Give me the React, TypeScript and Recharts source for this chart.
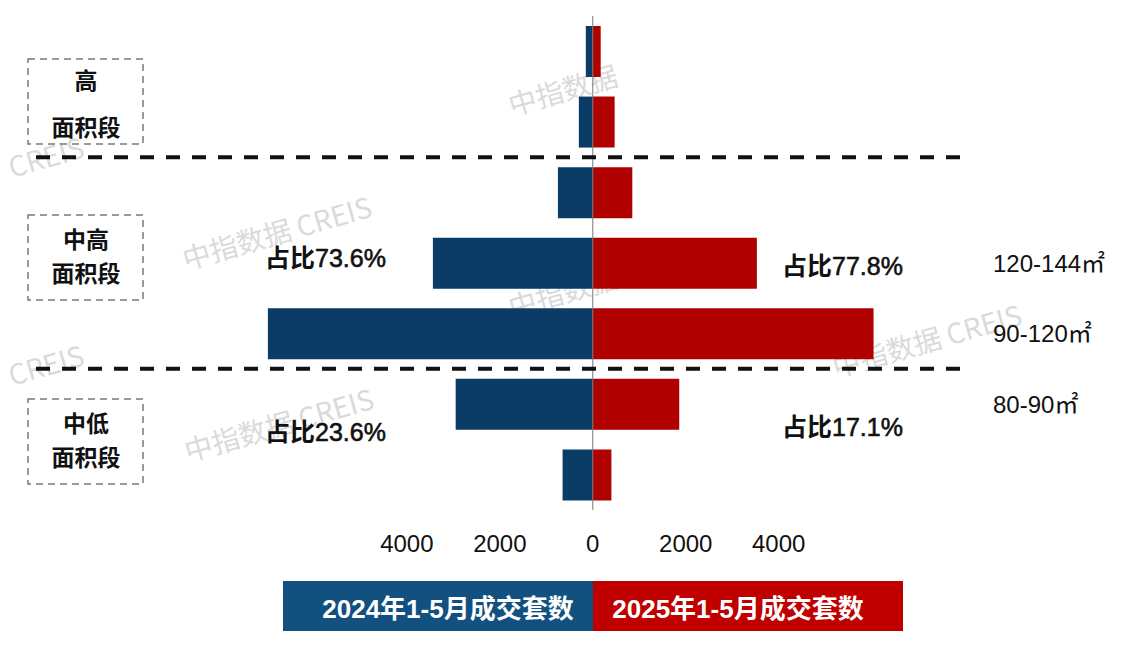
import { BarChart, Bar, XAxis, YAxis, ReferenceLine } from "recharts";

// area bands, top to bottom
const bands = ["b1", "b2", "b3", "b4", "b5", "b6", "b7"];
const bandLabels = ["", "", "", "120-144㎡", "90-120㎡", "80-90㎡", ""];
const sales2024 = [150, 300, 750, 3440, 6990, 2950, 650];
const sales2025 = [170, 470, 850, 3530, 6040, 1860, 400];
const seriesNames = ["2024年1-5月成交套数", "2025年1-5月成交套数"];
const xTicks = [-4000, -2000, 0, 2000, 4000];

// groups of bands
const groupNames = [["高", "面积段"], ["中高", "面积段"], ["中低", "面积段"]];
const share2024 = ["", "73.6%", "23.6%"];
const share2025 = ["", "77.8%", "17.1%"];
const groupStarts = [bands[2], bands[5]];

const BLUE = "#0b3c66";
const RED = "#b10000";
const LEGEND_BLUE = "#12507f";
const LEGEND_RED = "#c00000";
const FONT = "'Liberation Sans', 'Noto Sans CJK SC', sans-serif";
const CJK = "'Noto Sans CJK SC', 'Liberation Sans', sans-serif";

const data = bands.map((b, i) => ({
  band: b,
  y2024: -sales2024[i],
  y2025: sales2025[i],
}));

const watermarks = [
  { x: 512, y: 116, t: "中指数据" },
  { x: 12, y: 178, t: "CREIS" },
  { x: 186, y: 270, t: "中指数据  CREIS" },
  { x: 512, y: 318, t: "中指数据" },
  { x: 12, y: 386, t: "CREIS" },
  { x: 836, y: 378, t: "中指数据  CREIS" },
  { x: 188, y: 462, t: "中指数据  CREIS" },
];

const boxes = [
  { y: 59, l1: 81, l2: 128 },
  { y: 215, l1: 240, l2: 274 },
  { y: 399, l1: 424, l2: 458 },
];

const shareLeft = [0, 267, 441];
const shareRight = [0, 275, 436];

const ShareText = ({ x, y, v }: { x: number; y: number; v: string }) => (
  <text x={x} y={y} fontSize={25} fill="#111">
    <tspan fontFamily={CJK} fontWeight={700}>占比</tspan>
    <tspan fontFamily={FONT} stroke="#111" strokeWidth={0.6}>{v}</tspan>
  </text>
);

export default function App() {
  return (
    <div
      style={{
        position: "absolute",
        left: 0,
        top: 0,
        width: 1144,
        height: 658,
        background: "#fff",
        overflow: "hidden",
      }}
    >
      <svg width={1144} height={658} style={{ position: "absolute", left: 0, top: 0 }}>
        {watermarks.map((w, i) => (
          <text
            key={i}
            x={w.x}
            y={w.y}
            fontSize={28}
            fontFamily={CJK}
            fill="#dadada"
            transform={`rotate(-16 ${w.x} ${w.y})`}
          >
            {w.t}
          </text>
        ))}
      </svg>

      <div style={{ position: "absolute", left: 0, top: 0 }}>
        <BarChart
          width={1144}
          height={658}
          data={data}
          layout="vertical"
          stackOffset="sign"
          barSize={51}
          margin={{ top: 16, right: 0, bottom: 108, left: 35 }}
        >
          <XAxis
            type="number"
            domain={[-12000, 7900]}
            ticks={xTicks}
            allowDataOverflow
            tickFormatter={(v: number) => String(Math.abs(v))}
            axisLine={false}
            tickLine={false}
            tickSize={0}
            tickMargin={25}
            height={40}
            tick={{ fill: "#111", fontSize: 24, fontFamily: FONT }}
          />
          <YAxis
            type="category"
            dataKey="band"
            orientation="right"
            width={184}
            interval={0}
            axisLine={false}
            tickLine={false}
            tickSize={0}
            tickMargin={33}
            tickFormatter={(v: string) => bandLabels[bands.indexOf(v)]}
            tick={{ fill: "#111", fontSize: 24, fontFamily: FONT }}
          />
          <Bar dataKey="y2024" name={seriesNames[0]} stackId="s" fill={BLUE} isAnimationActive={false} />
          <Bar dataKey="y2025" name={seriesNames[1]} stackId="s" fill={RED} isAnimationActive={false} />
          <ReferenceLine x={0} stroke="#777" strokeWidth={1} />
          {groupStarts.map((g) => (
            <ReferenceLine
              key={g}
              y={g}
              position="start"
              stroke="#111"
              strokeWidth={4}
              strokeDasharray="14 12"
            />
          ))}
        </BarChart>
      </div>

      <svg
        width={1144}
        height={658}
        style={{ position: "absolute", left: 0, top: 0, pointerEvents: "none" }}
      >
        {boxes.map((b, i) => (
          <g key={i}>
            <rect
              x={28}
              y={b.y}
              width={115}
              height={85}
              fill="none"
              stroke="#7a7a7a"
              strokeWidth={1.5}
              strokeDasharray="7 5"
            />
            <text x={86} y={b.l1 + 8} textAnchor="middle" fontSize={23} fontWeight={700} fontFamily={CJK} fill="#111">
              {groupNames[i][0]}
            </text>
            <text x={86} y={b.l2 + 8} textAnchor="middle" fontSize={23} fontWeight={700} fontFamily={CJK} fill="#111">
              {groupNames[i][1]}
            </text>
          </g>
        ))}
        {share2024.map((s, i) =>
          s ? <ShareText key={"l" + i} x={265} y={shareLeft[i]} v={s} /> : null
        )}
        {share2025.map((s, i) =>
          s ? <ShareText key={"r" + i} x={782} y={shareRight[i]} v={s} /> : null
        )}
      </svg>

      <div style={{ position: "absolute", left: 283, top: 581, display: "flex" }}>
        {seriesNames.map((n, i) => (
          <div
            key={n}
            style={{
              width: 310,
              height: 50,
              background: i === 0 ? LEGEND_BLUE : LEGEND_RED,
              color: "#fff",
              fontFamily: FONT,
              fontWeight: 700,
              fontSize: 26,
              display: "flex",
              alignItems: "center",
              justifyContent: "center",
              paddingLeft: i === 0 ? 20 : 0,
              paddingRight: i === 0 ? 0 : 20,
              boxSizing: "border-box",
            }}
          >
            {n}
          </div>
        ))}
      </div>
    </div>
  );
}
